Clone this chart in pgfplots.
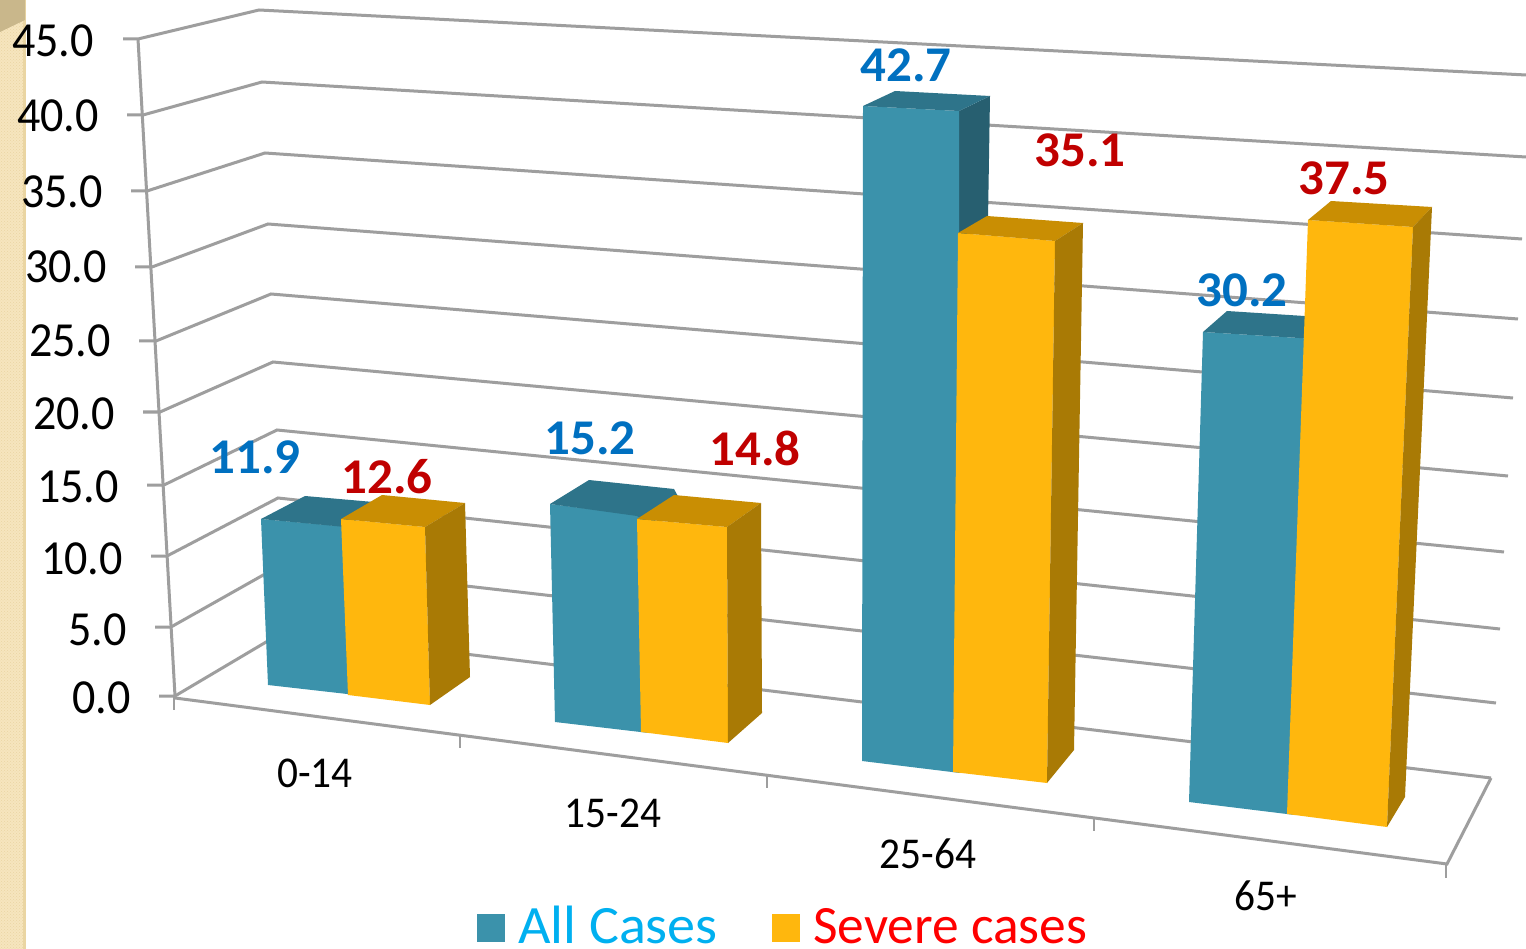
\documentclass[border=0pt]{standalone}
\usepackage{pgfplots}
\pgfplotsset{compat=1.18}
\usepackage{fontspec}
\setmainfont{Carlito}
\newfontfamily\tickfont[FakeStretch=0.94]{Carlito}
\newfontfamily\allfont[FakeStretch=1.04]{Carlito}
\newfontfamily\sevfont[FakeStretch=0.99]{Carlito}
\newfontfamily\valfont[FakeStretch=1.02]{Carlito}
\usetikzlibrary{patterns}

\definecolor{blueF}{HTML}{3B92AB}
\definecolor{blueT}{HTML}{2E748A}
\definecolor{blueS}{HTML}{275F70}
\definecolor{yellF}{HTML}{FFB70D}
\definecolor{yellT}{HTML}{C98E03}
\definecolor{yellS}{HTML}{A97A05}
\definecolor{gridc}{HTML}{9E9E9E}
\definecolor{lblue}{HTML}{0070C0}
\definecolor{lred}{HTML}{C00000}
\definecolor{strip}{HTML}{F6E5BE}
\definecolor{stripd}{HTML}{EAD5A2}

\pgfplotsset{
  face/.style={no markers,draw=none,forget plot},
  wall/.style={no markers,color=gridc,line width=3pt,forget plot},
}
\newcommand{\ticklab}[3]{\node[anchor=base east,font=\tickfont\fontsize{49}{49}\selectfont,inner sep=0pt] at (axis cs:#1,#2) {#3};}
\newcommand{\catlab}[3]{\node[anchor=base,font=\tickfont\fontsize{44}{44}\selectfont,inner sep=0pt] at (axis cs:#1,#2) {#3};}
\newcommand{\vallab}[4]{\node[anchor=base,text=#4,font=\valfont\fontsize{50}{50}\selectfont\bfseries,inner sep=0pt] at (axis cs:#1,#2) {#3};}

\begin{document}
\begin{tikzpicture}
\begin{axis}[
    scale only axis,
    width=1526pt,height=949pt,
    xmin=0,xmax=1526,ymin=0,ymax=949,
    y dir=reverse,
    hide axis,
    clip=true,
  ]
  % page area
  \addplot[face,fill=white] coordinates {(0,0)(1526,0)(1526,949)(0,949)} -- cycle;

  % textured strip on the left
  \addplot[face,fill=strip] coordinates {(0,0)(25,0)(25,949)(0,949)} -- cycle;
  \addplot[face,pattern=crosshatch dots,pattern color=stripd] coordinates {(0,0)(25,0)(25,949)(0,949)} -- cycle;
  \addplot[face,fill=stripd] coordinates {(23,0)(26,0)(26,949)(23,949)} -- cycle;
  \addplot[face,fill=black!14!stripd] coordinates {(0,0)(25,0)(25,20)(0,32)} -- cycle;

  % side wall and back wall
  \addplot[wall] coordinates {(123,39)(138,39)(259,10)(1526,75)};
  \addplot[wall] coordinates {(127,115)(143,115)(262,82)(1526,157)};
  \addplot[wall] coordinates {(131,191)(147,191)(265,153)(1522,239)};
  \addplot[wall] coordinates {(135,267)(152,267)(268,224)(1518,319)};
  \addplot[wall] coordinates {(139,341)(156,341)(271,294)(1513,398)};
  \addplot[wall] coordinates {(143,412)(160,412)(273,362)(1508,476)};
  \addplot[wall] coordinates {(147,485)(164,485)(277,430)(1504,552)};
  \addplot[wall] coordinates {(151,556)(167,556)(278,498)(1500,629)};
  \addplot[wall] coordinates {(155,627)(171,627)(281,565)(1496,703)};
  \addplot[wall] coordinates {(159,696)(175,696)(283,632)(1491,778)};
  % y axis line
  \addplot[wall] coordinates {(138,39)(175,696)};
  % floor front and right edge, ticks
  \addplot[wall] coordinates {(175,698)(1447,864)(1491,778)};
  \addplot[wall,line width=2pt] coordinates {(174,696)(174,710)};
  \addplot[wall,line width=2pt] coordinates {(460,736)(460,748)};
  \addplot[wall,line width=2pt] coordinates {(767,776)(767,788)};
  \addplot[wall,line width=2pt] coordinates {(1094,819)(1094,831)};
  \addplot[wall,line width=2pt] coordinates {(1446,864)(1446,878)};

  % 0-14
  \addplot[face,fill=blueF] coordinates {(261,519)(350,527)(356,695)(268,685)} -- cycle;
  \addplot[face,fill=blueT] coordinates {(261,519)(305,496)(385,503)(345,527)} -- cycle;
  \addplot[face,fill=yellF] coordinates {(341,519)(425,527)(430,705)(348,695)} -- cycle;
  \addplot[face,fill=yellT] coordinates {(341,519)(382,495)(465,503)(425,527)} -- cycle;
  \addplot[face,fill=yellS] coordinates {(425,527)(465,503)(470,677)(430,705)} -- cycle;

  % 15-24
  \addplot[face,fill=blueF] coordinates {(550,504)(645,516)(649,733)(555,722)} -- cycle;
  \addplot[face,fill=blueT] coordinates {(550,504)(589,480)(674,489)(680,500)(650,525)(637,516)} -- cycle;
  \addplot[face,fill=yellF] coordinates {(637,519)(727,527)(728,743)(641,732)} -- cycle;
  \addplot[face,fill=yellT] coordinates {(637,519)(674,495)(761,503)(727,527)} -- cycle;
  \addplot[face,fill=yellS] coordinates {(727,527)(761,503)(762,713)(728,743)} -- cycle;

  % 25-64
  \addplot[face,fill=blueS] coordinates {(959,111)(990,96)(988,220)(958,240)} -- cycle;
  \addplot[face,fill=blueF] coordinates {(863,106)(959,111)(960,773)(862,761)} -- cycle;
  \addplot[face,fill=blueT] coordinates {(863,106)(895,91)(990,96)(959,111)} -- cycle;
  \addplot[face,fill=yellF] coordinates {(958,233)(1055,241)(1047,783)(953,772)} -- cycle;
  \addplot[face,fill=yellT] coordinates {(958,233)(987,216)(1083,223)(1055,241)} -- cycle;
  \addplot[face,fill=yellS] coordinates {(1055,241)(1083,223)(1074,750)(1047,783)} -- cycle;

  % 65+
  \addplot[face,fill=blueF] coordinates {(1203,332)(1315,339)(1295,815)(1189,802)} -- cycle;
  \addplot[face,fill=blueT] coordinates {(1203,332)(1227,311)(1320,317)(1315,339)} -- cycle;
  \addplot[face,fill=yellF] coordinates {(1308,220)(1413,227)(1387,827)(1287,814)} -- cycle;
  \addplot[face,fill=yellT] coordinates {(1308,220)(1331,201)(1432,207)(1413,227)} -- cycle;
  \addplot[face,fill=yellS] coordinates {(1413,227)(1432,207)(1405,797)(1387,827)} -- cycle;

  % legend keys
  \addplot[face,fill=blueF] coordinates {(477,914)(505,914)(505,942)(477,942)} -- cycle;
  \addplot[face,fill=yellF] coordinates {(772,914)(800,914)(800,942)(772,942)} -- cycle;

  % value axis labels
  \ticklab{94}{57}{45.0}
  \ticklab{99}{132}{40.0}
  \ticklab{103}{208}{35.0}
  \ticklab{107}{283}{30.0}
  \ticklab{111}{357}{25.0}
  \ticklab{115}{429}{20.0}
  \ticklab{119}{502}{15.0}
  \ticklab{123}{574}{10.0}
  \ticklab{127}{645}{5.0}
  \ticklab{131}{713}{0.0}

  % category labels
  \catlab{315}{787}{0-14}
  \catlab{613}{827}{15-24}
  \catlab{928}{868}{25-64}
  \catlab{1266}{910}{65+}

  % data labels
  \vallab{255}{473}{11.9}{lblue}
  \vallab{387}{493}{12.6}{lred}
  \vallab{590}{454}{15.2}{lblue}
  \vallab{755}{465}{14.8}{lred}
  \vallab{906}{82}{42.7}{lblue}
  \vallab{1080}{167}{35.1}{lred}
  \vallab{1242}{307}{30.2}{lblue}
  \vallab{1344}{195}{37.5}{lred}

  % legend text
  \node[anchor=base west,text={rgb,255:red,0;green,176;blue,240},font=\allfont\fontsize{54}{54}\selectfont,inner sep=0pt] at (axis cs:518,943) {All Cases};
  \node[anchor=base west,text=red,font=\sevfont\fontsize{54}{54}\selectfont,inner sep=0pt] at (axis cs:813,943) {Severe cases};
\end{axis}
\end{tikzpicture}
\end{document}
